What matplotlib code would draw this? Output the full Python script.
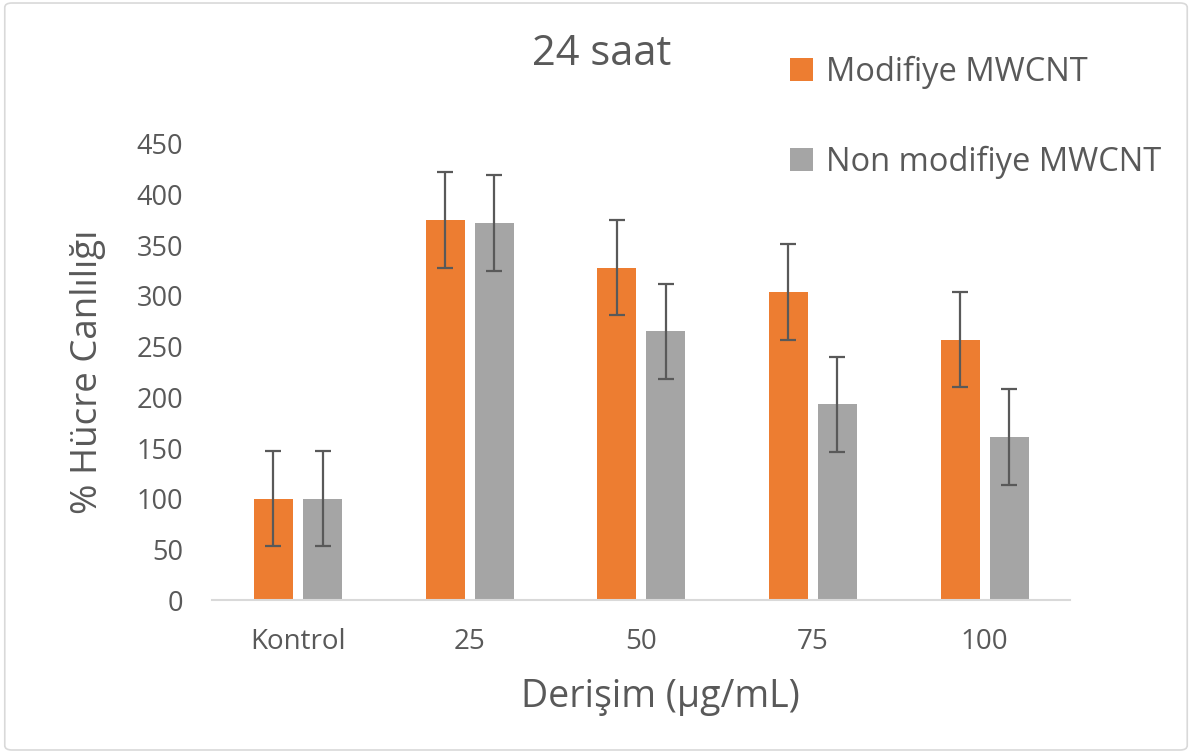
import matplotlib.pyplot as plt
import numpy as np
from matplotlib.patches import FancyBboxPatch

plt.rcParams["font.family"] = ["Open Sans", "DejaVu Sans"]

# --- Data ---
categories = ["Kontrol", "25", "50", "75", "100"]
modifiye = [100, 375, 328, 304, 257]
non_modifiye = [100, 372, 265, 193, 161]
modifiye_err = [47, 47, 47, 47, 47]
non_modifiye_err = [47, 47, 47, 47, 47]

ORANGE = "#ED7D31"
GRAY = "#A5A5A5"
TEXT = "#595959"

fig = plt.figure(figsize=(11.92, 7.53), dpi=100)
ax = fig.add_axes([0.178, 0.203, 0.72, 0.606])

x = np.arange(len(categories))
width = 0.227
offset = 0.143

err_kw = dict(ecolor=TEXT, elinewidth=1.6, capsize=6, capthick=1.6)
ax.bar(x - offset, modifiye, width, yerr=modifiye_err, color=ORANGE,
       label="Modifiye MWCNT", error_kw=err_kw, zorder=2)
ax.bar(x + offset, non_modifiye, width, yerr=non_modifiye_err, color=GRAY,
       label="Non modifiye MWCNT", error_kw=err_kw, zorder=2)

ax.set_xlim(-0.5, len(categories) - 0.5)
ax.set_ylim(0, 450)
ax.set_yticks(np.arange(0, 451, 50))
ax.set_xticks(x)
ax.set_xticklabels(categories)

for side in ["top", "right", "left"]:
    ax.spines[side].set_visible(False)
ax.spines["bottom"].set_color("#D9D9D9")
ax.spines["bottom"].set_linewidth(1.5)

ax.tick_params(axis="y", length=0, pad=21, labelsize=19.5, labelcolor=TEXT)
ax.tick_params(axis="x", length=0, pad=20, labelsize=20, labelcolor=TEXT)

ax.set_ylabel("% Hücre Canlılığı", fontsize=26.5, color=TEXT, labelpad=22)
ax.set_xlabel("Derişim (µg/mL)", fontsize=27, color=TEXT, labelpad=24)
ax.xaxis.set_label_coords(0.522, -0.17)

fig.text(0.505, 0.928, "24 saat", fontsize=30, color=TEXT,
         ha="center", va="center")

leg = fig.legend(loc="upper left", bbox_to_anchor=(0.638, 0.965),
                 frameon=False, fontsize=23.5, labelspacing=1.75,
                 handlelength=0.7, handleheight=0.7, handletextpad=0.4)
for t in leg.get_texts():
    t.set_color(TEXT)

# chart border
border = FancyBboxPatch((0.004, 0.004), 0.992, 0.992,
                        boxstyle="round,pad=0,rounding_size=0.006",
                        transform=fig.transFigure, fill=False,
                        edgecolor="#D9D9D9", linewidth=1.2)
fig.patches.append(border)

fig.savefig("out.png", dpi=100)
